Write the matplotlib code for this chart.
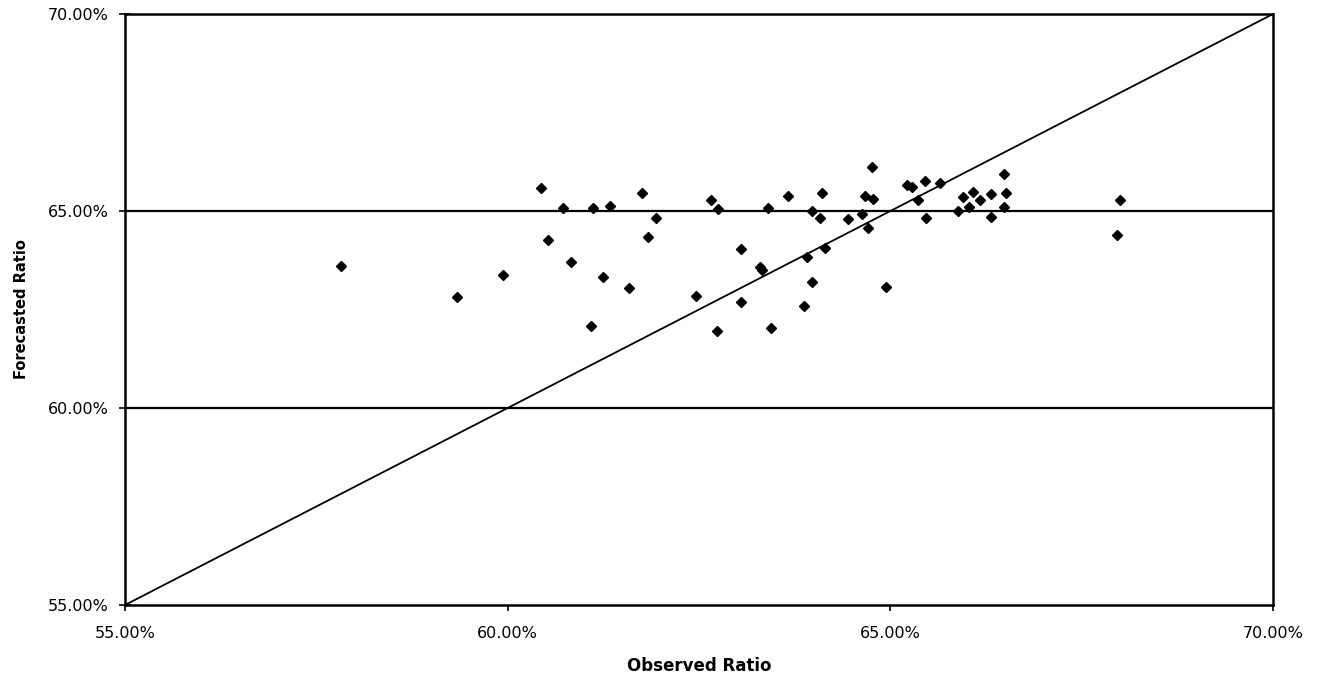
import matplotlib
matplotlib.use('Agg')
import matplotlib.pyplot as plt
from matplotlib.ticker import FuncFormatter

# observed vs forecasted ratios (%)
observed = [57.82, 59.34, 59.94, 60.44, 60.53, 60.72, 60.83, 61.09, 61.12, 61.25,
            61.34, 61.59, 61.76, 61.83, 61.94, 62.46, 62.66, 62.75, 62.74, 63.05,
            63.05, 63.30, 63.32, 63.40, 63.44, 63.66, 63.87, 63.91, 63.98, 63.98,
            64.08, 64.11, 64.15, 64.45, 64.63, 64.67, 64.71, 64.76, 64.77, 64.94,
            65.22, 65.28, 65.36, 65.47, 65.45, 65.65, 65.88, 65.95, 66.03, 66.08,
            66.17, 66.32, 66.32, 66.49, 66.51, 66.49, 68.00, 67.96]
forecasted = [63.60, 62.82, 63.38, 65.58, 64.26, 65.08, 63.71, 62.08, 65.08, 63.32,
              65.13, 63.05, 65.46, 64.34, 64.82, 62.84, 65.28, 65.05, 61.95, 64.04,
              62.69, 63.58, 63.50, 65.08, 62.03, 65.38, 62.59, 63.83, 65.00, 63.20,
              64.82, 65.46, 64.06, 64.80, 64.92, 65.38, 64.57, 66.12, 65.30, 63.07,
              65.66, 65.61, 65.28, 64.82, 65.76, 65.71, 65.00, 65.36, 65.10, 65.48,
              65.28, 64.85, 65.43, 65.94, 65.46, 65.10, 65.28, 64.39]

ticks = [55, 60, 65, 70]
hlines = [60, 65]
lo, hi = 55, 70

plt.rcParams['font.family'] = 'DejaVu Sans'

fig = plt.figure(figsize=(13.2, 6.8), dpi=100)
ax = fig.add_axes([0.0947, 0.1103, 0.8697, 0.8691])

for h in hlines:
    ax.axhline(h, color='black', linewidth=1.6, zorder=1)
ax.plot([lo, hi], [lo, hi], color='black', linewidth=1.3, zorder=2)
ax.plot(observed, forecasted, linestyle='none', marker='D', markersize=5.4,
        color='black', zorder=3)

ax.set_xlim(lo, hi)
ax.set_ylim(lo, hi)
ax.set_xticks(ticks)
ax.set_yticks(ticks)
fmt = FuncFormatter(lambda v, p: f'{v:.2f}%')
ax.xaxis.set_major_formatter(fmt)
ax.yaxis.set_major_formatter(fmt)
ax.tick_params(axis='x', direction='out', length=4, width=1.2, pad=11, labelsize=11.5)
ax.tick_params(axis='y', direction='inout', length=8, width=1.2, pad=8, labelsize=11.5)

ax.set_xlabel('Observed Ratio', fontsize=12, fontweight='bold', labelpad=12)
ax.set_ylabel('Forecasted Ratio', fontsize=10.5, fontweight='bold', labelpad=13)

for s in ['left', 'bottom']:
    ax.spines[s].set_linewidth(1.8)
for s in ['top', 'right']:
    ax.spines[s].set_linewidth(1.8)
    ax.spines[s].set_linestyle((0, (4, 1)))

fig.savefig('out.png', dpi=100, facecolor='white')
